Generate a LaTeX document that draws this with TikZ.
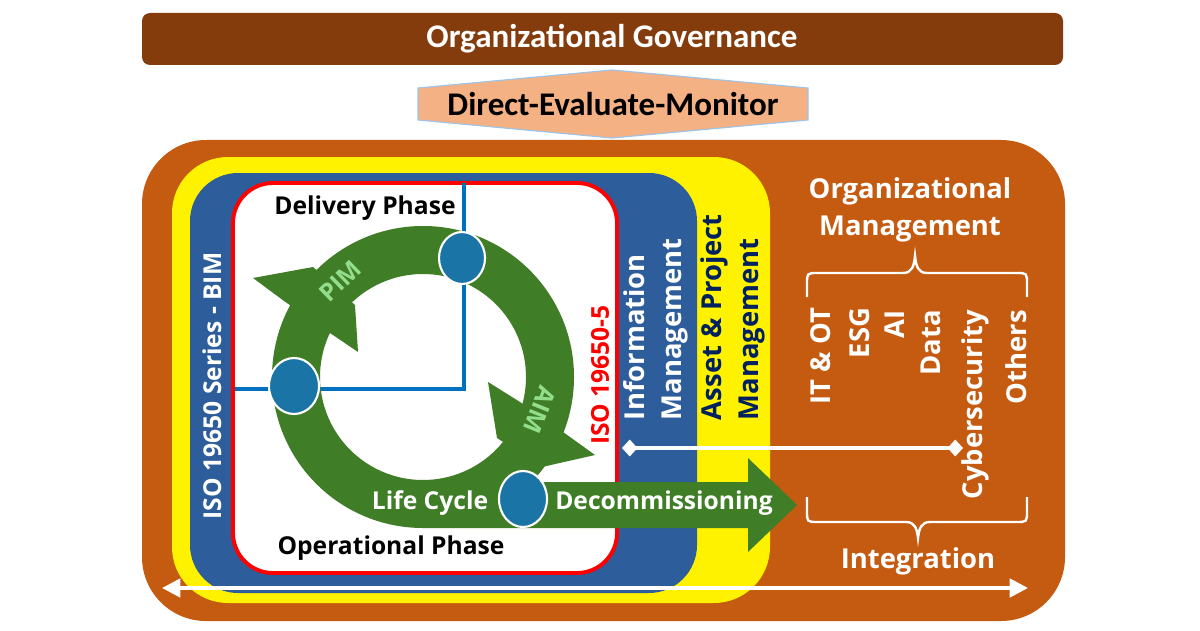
\documentclass[tikz,border=0pt]{standalone}
\usepackage{fontspec}
\setmainfont{Open Sans}
\newfontfamily\carl{Carlito}
\usetikzlibrary{arrows.meta,shapes.geometric}
\definecolor{govbrown}{HTML}{843C0C}
\definecolor{orgorange}{HTML}{C55A11}
\definecolor{hexfill}{HTML}{F4B183}
\definecolor{hexline}{HTML}{9DC3E6}
\definecolor{bimblue}{HTML}{2E5D9C}
\definecolor{ringgreen}{RGB}{63,125,38}
\definecolor{dotblue}{HTML}{1B74A6}
\definecolor{linkblue}{HTML}{0070C0}
\definecolor{navyblue}{HTML}{002060}
\definecolor{pastelgreen}{RGB}{146,222,140}
\begin{document}
\begin{tikzpicture}[x=0.025cm,y=-0.025cm,
  every node/.style={inner sep=0pt, outer sep=0pt},
  lbl/.style={font=\fontsize{17.5}{21}\selectfont\bfseries},
  biglbl/.style={font=\fontsize{19.5}{26.5}\selectfont\bfseries},
  toplbl/.style={font=\carl\fontsize{23.5}{27}\selectfont\bfseries},
  ringlbl/.style={font=\fontsize{17.5}{20}\selectfont\bfseries, text=pastelgreen},
  vert/.style={rotate=90},
  dotnode/.style={ellipse, fill=dotblue, draw=white, line width=1.5pt},
  bracestyle/.style={draw=white, line width=1.7pt},
  dblarrow/.style={draw=white, line width=2.6pt, {Triangle[length=13pt,width=13pt]}-{Triangle[length=13pt,width=13pt]}},
  diamline/.style={draw=white, line width=3.4pt, {Diamond[length=11pt,width=12pt]}-{Diamond[length=11pt,width=12pt]}}
]
\useasboundingbox (0,0) rectangle (1200,630);
\fill[white] (0,0) rectangle (1200,630);

% governance bar
\fill[govbrown, rounded corners=0.2cm] (142,13) rectangle (1063,65);
\node[toplbl, text=white] (gov) at (612,39) {Organizational Governance};

% outer boxes
\fill[orgorange, rounded corners=1.6cm] (142,140) rectangle (1065,621);
\fill[yellow, rounded corners=1.4cm] (172,157) rectangle (770,603);
\fill[bimblue, rounded corners=1.2cm] (190,173) rectangle (697,593);
\draw[red, line width=2.8pt, fill=white, rounded corners=1cm] (233,183) rectangle (617,573);

% hexagon
\draw[fill=hexfill, draw=hexline, line width=0.8pt] (418,88) -- (612,70) -- (808,88) -- (808,120) -- (612,138) -- (418,120) -- cycle;
\node[toplbl, text=black] (dem) at (613,104) {Direct-Evaluate-Monitor};

% blue link lines
\coordinate (vtop) at (464,183);
\coordinate (corner) at (464,389);
\coordinate (lend) at (235,389);
\draw[linkblue, line width=2.2pt] (vtop) -- (corner) -- (lend);

% green ring
\fill[ringgreen, even odd rule] (423,377) circle (151) (423,377) circle (103);
\fill[ringgreen] (253,278) -- (313,267) -- (355,305) -- (358,352) -- (330,333) -- (284,301) -- cycle;
\fill[ringgreen] (488,382) -- (520,402) -- (563,432) -- (595,455) -- (542,467) -- (497,438) -- cycle;
\fill[ringgreen] (423,482) -- (748,482) -- (748,458) -- (797,505) -- (748,552) -- (748,528) -- (423,528) -- cycle;

% circles
\node[dotnode, minimum width=1.15cm, minimum height=1.3cm] (ctop) at (462,258) {};
\node[dotnode, minimum width=1.25cm, minimum height=1.4cm] (cleft) at (294,386) {};
\node[dotnode, minimum width=1.2cm, minimum height=1.4cm] (cbot) at (523,499) {};

% texts inside
\node[lbl, text=white, vert] (bim) at (212,386) {ISO 19650 Series - BIM};
\node[lbl] (deliv) at (365,208) {Delivery Phase};
\node[lbl] (oper) at (391,548) {Operational Phase};
\node[lbl, text=red, vert] (iso5) at (600,375) {ISO 19650-5};
\node[ringlbl, rotate=44] (pim) at (340,281) {PIM};
\node[ringlbl, rotate=-112] (aim) at (540,410) {AIM};
\node[lbl, text=white] (life) at (430,503) {Life Cycle};
\node[lbl, text=white] (decom) at (664,503) {Decommissioning};

\node[biglbl, text=white, vert, anchor=west, align=left] (info) at (656,420) {Information\\Management};
\node[biglbl, text=navyblue, vert, anchor=west, align=left] (asset) at (733,420) {Asset \& Project\\Management};

% organizational management
\node[biglbl, text=white, align=center] (orgm) at (910,210) {Organizational\\Management};
\node[biglbl, text=white, vert, anchor=east] (itot) at (821,308) {IT \& OT};
\node[biglbl, text=white, vert, anchor=east] (esg) at (860,308) {ESG};
\node[biglbl, text=white, vert, anchor=east] (ai) at (895,310) {AI};
\node[biglbl, text=white, vert, anchor=east] (data) at (931,310) {Data};
\node[biglbl, text=white, vert, anchor=east] (cyber) at (975,310) {Cybersecurity};
\node[biglbl, text=white, vert, anchor=east] (others) at (1016,310) {Others};
\node[biglbl, text=white] (integ) at (918,561) {Integration};

% braces
\draw[bracestyle] (807,297) -- (807,284) .. controls (807,273) and (807,273) .. (818,273) -- (903,273) .. controls (912,273) and (914,266) .. (915,256) .. controls (916,266) and (918,273) .. (927,273) -- (1016,273) .. controls (1027,273) and (1027,273) .. (1027,284) -- (1027,297);
\draw[bracestyle] (807,497) -- (807,511) .. controls (807,522) and (807,522) .. (818,522) -- (906,522) .. controls (915,522) and (917,529) .. (918,538) .. controls (919,529) and (921,522) .. (930,522) -- (1016,522) .. controls (1027,522) and (1027,522) .. (1027,511) -- (1027,497);

% white connectors
\coordinate (dL) at (622,448);
\coordinate (dR) at (963,448);
\draw[diamline] (dL) -- (dR);
\coordinate (intL) at (162,588);
\coordinate (intR) at (1028,588);
\draw[dblarrow] (intL) -- (intR);
\end{tikzpicture}
\end{document}
